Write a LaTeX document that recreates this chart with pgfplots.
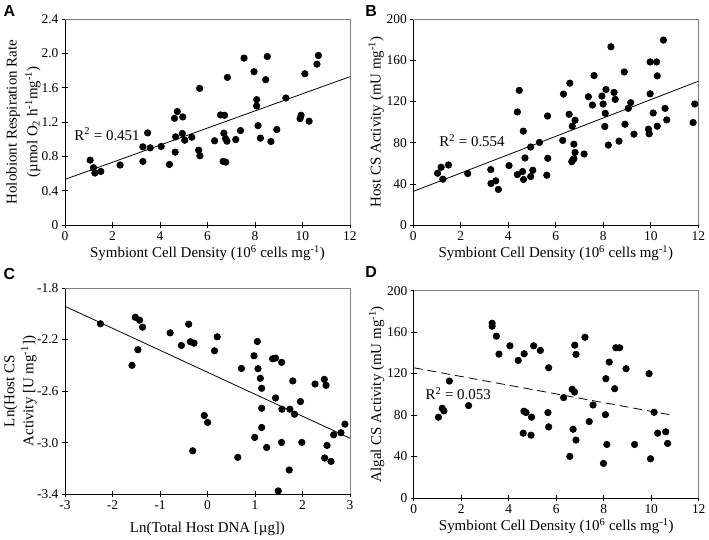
\documentclass[border=0pt]{standalone}
\usepackage{pgfplots}
\pgfplotsset{compat=1.18}
\usepackage{fontspec}
\setmainfont{Liberation Serif}
\newfontfamily\panelfont{Liberation Sans}
\begin{document}
\pgfplotsset{
  panel/.style={
    scale only axis, width=286pt, height=207pt,
    axis x line*=bottom, axis y line*=left,
    axis line style={black, line width=0.7pt},
    tick align=center, major tick length=6pt,
    tick style={black, line width=0.7pt},
    ticklabel style={font=\fontsize{13.5}{15}\selectfont},
    label style={font=\fontsize{15}{21}\selectfont},
    /pgf/number format/assume math mode=true,
    clip=false,
    every axis plot/.append style={line width=0.8pt},
  },
  dots/.style={only marks, mark=*, mark size=3.2pt, mark options={fill=black, draw=black}},
}
\begin{tikzpicture}
% Panel A
\begin{axis}[panel, at={(62.7pt,315pt)}, anchor=south west,
  xmin=0, xmax=12, ymin=0, ymax=2.4,
  xtick={0,2,...,12}, ytick={0,0.4,0.8,1.2,1.6,2.0,2.4},
  yticklabels={0,0.4,0.8,1.2,1.6,2.0,2.4},
  xlabel={Symbiont Cell Density (10\textsuperscript{6} cells mg\textsuperscript{-1})},
  ylabel={Holobiont Respiration Rate\\(µmol O\textsubscript{2} h\textsuperscript{-1}mg\textsuperscript{-1})},
  ylabel style={align=center, at={(axis description cs:-0.1458,0.5)}, anchor=center},
  xlabel style={at={(axis description cs:0.5,-0.1353)}, anchor=center},
]
\draw[gray, line width=0.7pt] (rel axis cs:0,1) -- (rel axis cs:1,1) -- (rel axis cs:1,0);
\addplot[dots] coordinates {
(1.06,0.757) (1.20,0.669) (1.26,0.607) (1.51,0.626) (2.32,0.70) (3.28,0.912) (3.28,0.742)
(3.48,1.074) (3.59,0.90) (4.05,0.916) (4.40,0.707) (4.61,1.244) (4.73,1.322) (4.96,1.260)
(4.66,1.028) (4.64,0.85) (4.94,1.067) (5.04,0.989) (5.34,1.024) (5.67,1.592) (5.63,0.873)
(5.68,0.808) (6.30,0.982) (6.55,1.283) (6.72,1.279) (6.69,1.071) (6.76,1.009) (6.82,0.978)
(6.66,0.742) (6.77,0.734) (6.84,1.720) (7.19,0.997) (7.39,1.101) (7.54,1.944) (7.96,1.786)
(8.07,1.461) (8.07,1.388) (8.13,1.159) (8.23,1.013) (8.45,1.693) (8.52,1.963) (8.67,0.974)
(8.92,1.113) (9.30,1.480) (9.90,1.240) (9.94,1.279) (10.10,1.762) (10.28,1.210) (10.61,1.874)
(10.67,1.975)};
\addplot[black, no marks] coordinates {(0,0.533) (12,1.728)};
\node[anchor=west, font=\fontsize{15}{17}\selectfont] at (axis cs:0.25,1.06) {R\textsuperscript{2} = 0.451};
\end{axis}
\node[font=\panelfont\bfseries\fontsize{16}{18}\selectfont] at (7pt,530pt) {A};
% Panel B
\begin{axis}[panel, at={(412.3pt,315pt)}, anchor=south west,
  xmin=0, xmax=12, ymin=0, ymax=200,
  xtick={0,2,...,12}, ytick={0,40,...,200},
  xlabel={Symbiont Cell Density (10\textsuperscript{6} cells mg\textsuperscript{-1})},
  ylabel={Host CS Activity (mU mg\textsuperscript{-1})},
  ylabel style={at={(axis description cs:-0.1304,0.5)}, anchor=center},
  xlabel style={at={(axis description cs:0.5,-0.1353)}, anchor=center},
]
\draw[gray, line width=0.7pt] (rel axis cs:0,1) -- (rel axis cs:1,1) -- (rel axis cs:1,0);
\addplot[dots] coordinates {
(1.02,50.4) (1.17,56.2) (1.24,44.6) (1.48,58.4) (2.29,50.1) (3.26,53.9) (3.27,40.4) (3.47,43.0)
(3.58,34.7) (4.03,57.8) (4.38,109.8) (4.38,49.1) (4.46,130.7) (4.60,52.0) (4.63,91.2) (4.64,44.3)
(4.70,65.2) (4.94,75.8) (4.94,47.2) (5.03,53.3) (5.31,80.3) (5.65,105.9) (5.66,64.9) (5.62,48.5)
(6.29,82.2) (6.32,127.1) (6.56,107.5) (6.59,137.7) (6.67,61.6) (6.69,96.0) (6.71,63.2) (6.76,64.5)
(6.76,78.6) (6.81,70.6) (6.81,101.8) (7.19,69.0) (7.37,124.6) (7.54,116.5) (7.61,145.1) (7.94,125.2)
(7.99,117.5) (8.06,95.7) (8.08,108.5) (8.11,131.6) (8.21,77.7) (8.32,173.0) (8.45,128.7) (8.50,122.0)
(8.66,81.5) (8.88,148.6) (8.91,97.9) (9.05,113.3) (9.15,118.8) (9.29,88.3) (9.90,93.1) (9.93,88.6)
(9.97,158.3) (9.97,127.4) (10.24,158.3) (10.27,144.8) (10.10,108.8) (10.27,96.0) (10.53,179.5)
(10.60,113.3) (10.67,102.1) (11.78,99.5) (11.85,117.5)};
\addplot[black, no marks] coordinates {(0,32.8) (12,139.6)};
\node[anchor=west, font=\fontsize{15}{17}\selectfont] at (axis cs:0.95,82) {R\textsuperscript{2} = 0.554};
\end{axis}
\node[font=\panelfont\bfseries\fontsize{16}{18}\selectfont] at (370pt,530pt) {B};
% Panel C
\begin{axis}[panel, at={(62.7pt,45pt)}, anchor=south west,
  xmin=-3, xmax=3, ymin=-3.4, ymax=-1.8,
  xtick={-3,-2,...,3}, ytick={-3.4,-3.0,-2.6,-2.2,-1.8},
  yticklabels={-3.4,-3.0,-2.6,-2.2,-1.8},
  xticklabels={-3,-2,-1,0,1,2,3},
  xlabel={Ln(Total Host DNA [µg])},
  ylabel={Ln(Host CS\\Activity [U mg\textsuperscript{-1}])},
  ylabel style={align=center, font=\fontsize{15}{19}\selectfont, at={(axis description cs:-0.157,0.5)}, anchor=center},
  xlabel style={at={(axis description cs:0.5,-0.169)}, anchor=center},
]
\draw[gray, line width=0.7pt] (rel axis cs:0,1) -- (rel axis cs:1,1) -- (rel axis cs:1,0);
\addplot[dots] coordinates {
(-2.253,-2.078) (-1.520,-2.027) (-1.429,-2.050) (-1.366,-2.104) (-1.464,-2.279) (-1.589,-2.400)
(-0.786,-2.148) (-0.549,-2.246) (-0.395,-2.081) (-0.360,-2.217) (-0.283,-2.228) (-0.311,-3.063)
(-0.067,-2.789) (0.003,-2.843) (0.149,-2.287) (0.205,-2.179) (0.638,-3.114) (0.715,-2.424)
(0.980,-2.326) (0.994,-2.959) (1.050,-2.215) (1.064,-2.426) (1.113,-2.501) (1.141,-2.578)
(1.141,-2.733) (1.141,-2.882) (1.246,-3.037) (1.372,-2.349) (1.434,-2.344) (1.434,-2.653)
(1.490,-3.374) (1.560,-2.377) (1.567,-2.740) (1.560,-2.998) (1.735,-2.740) (1.721,-3.212)
(1.797,-2.521) (1.832,-2.779) (1.958,-2.681) (1.986,-2.998) (2.265,-2.545) (2.460,-2.509)
(2.496,-2.555) (2.468,-3.119) (2.517,-3.021) (2.601,-3.145) (2.657,-2.939) (2.810,-2.923)
(2.894,-2.856)};
\addplot[black, no marks] coordinates {(-3,-1.942) (3,-2.965)};
\end{axis}
\node[font=\panelfont\bfseries\fontsize{16}{18}\selectfont] at (7pt,266pt) {C};
% Panel D
\begin{axis}[panel, at={(412.7pt,41.3pt)}, anchor=south west, height=208pt,
  xmin=0, xmax=12, ymin=0, ymax=200,
  xtick={0,2,...,12}, ytick={0,40,...,200},
  xlabel={Symbiont Cell Density (10\textsuperscript{6} cells mg\textsuperscript{-1})},
  ylabel={Algal CS Activity (mU mg\textsuperscript{-1})},
  ylabel style={at={(axis description cs:-0.1304,0.5)}, anchor=center},
  xlabel style={at={(axis description cs:0.5,-0.137)}, anchor=center},
]
\draw[gray, line width=0.7pt] (rel axis cs:0,1) -- (rel axis cs:1,1) -- (rel axis cs:1,0);
\addplot[dots] coordinates {
(1.04,77.9) (1.20,86.5) (1.27,84.0) (1.50,112.8) (2.31,89.1) (3.30,168.6) (3.30,165.7) (3.48,156.1)
(3.59,138.8) (4.05,146.8) (4.40,132.7) (4.65,139.1) (4.64,83.7) (4.73,82.4) (4.61,62.5) (4.96,77.9)
(4.94,60.6) (5.05,146.8) (5.33,142.3) (5.68,125.6) (5.65,82.4) (5.68,68.6) (6.31,96.8) (6.57,40.1)
(6.67,104.8) (6.71,66.3) (6.77,102.2) (6.78,147.4) (6.83,138.5) (6.83,55.8) (7.21,155.1) (7.39,73.7)
(7.55,89.7) (7.99,33.3) (8.07,80.4) (8.09,115.1) (8.13,51.6) (8.23,131.1) (8.46,105.4) (8.51,144.9)
(8.67,144.9) (8.94,124.7) (9.30,51.6) (9.91,119.9) (9.97,37.8) (10.12,82.7) (10.27,62.5) (10.61,63.8)
(10.69,52.6)};
\addplot[black, no marks, dash pattern=on 9pt off 5pt] coordinates {(0,125.6) (10.75,80.4)};
\node[anchor=west, font=\fontsize{15}{17}\selectfont] at (axis cs:0.35,101) {R\textsuperscript{2} = 0.053};
\end{axis}
\node[font=\panelfont\bfseries\fontsize{16}{18}\selectfont] at (370pt,268pt) {D};
\pgfresetboundingbox
\path[use as bounding box] (0,0) rectangle (709pt,541pt);
\end{tikzpicture}
\end{document}
